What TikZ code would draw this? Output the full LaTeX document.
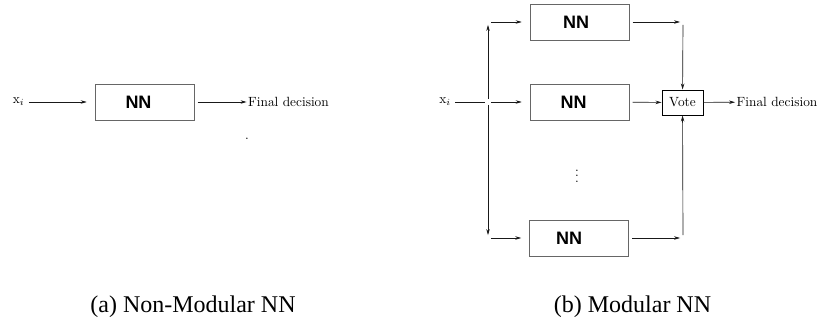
\documentclass[tikz,border=0pt]{standalone}
\usepackage{amsmath}
\usepackage{fontspec}
\usetikzlibrary{arrows.meta}
\newfontfamily\nnfont{Liberation Sans}
\newfontfamily\capfont{Liberation Serif}

\begin{document}
\begin{tikzpicture}[x=0.75pt, y=-0.75pt,
    nnbox/.style={draw=black!60, minimum width=74.25pt, minimum height=27pt, inner sep=0pt},
    nntext/.style={font=\nnfont\bfseries\fontsize{13.5}{14}\selectfont},
    votebox/.style={draw, line width=0.7pt, minimum width=30.75pt, minimum height=18.75pt, inner sep=2pt},
    corner/.style={inner sep=0pt, minimum size=4pt},
    arr/.style={-{Stealth[length=4.5pt, width=2.6pt]}, black!90, line width=0.5pt},
    into/.style={arr, shorten >=6pt},
    outof/.style={arr, shorten <=2.5pt}]
    \useasboundingbox (0,0) rectangle (817,320);
    % (a) Non-modular
    \node (xa) at (18.5,102) {$\mathrm{x}_i$};
    \node[nnbox, label={[nntext, xshift=-4.5pt]center:NN}] (nna) at (144.5,102) {};
    \node[inner sep=1pt] (fda) at (288.5,102) {Final decision};
    \node[inner sep=0pt] (dot) at (247,139) {.};
    \draw[into] (xa) -- (nna);
    \draw[outof] (nna) -- (fda);
    % (b) Modular
    \node (xb) at (445,102) {$\mathrm{x}_i$};
    \node[corner] (split) at (488,102) {};
    \node[corner] (tl) at (488,22) {};
    \node[corner] (bl) at (488,238) {};
    \node[nnbox, label={[nntext, xshift=-2.5pt]center:NN}] (nn1) at (579.5,22) {};
    \node[nnbox, label={[nntext, xshift=-4.5pt]center:NN}] (nn2) at (579.5,102) {};
    \node[nnbox, label={[nntext, xshift=-7.5pt]center:NN}] (nn3) at (579,238) {};
    \node (dots) at (577,172) {$\vdots$};
    \node[corner] (tr) at (683,22) {};
    \node[corner] (br) at (683,238) {};
    \node[votebox] (vote) at (682.5,102.5) {Vote};
    \node[inner sep=1pt] (fdb) at (777,102) {Final decision};
    % connectors
    \draw[black!90, line width=0.5pt] (xb) -- (split);
    \draw[arr] (split) -- (tl);
    \draw[arr] (split) -- (bl);
    \draw[into] (split) -- (nn2);
    \draw[into] (tl) -- (nn1);
    \draw[into] (bl) -- (nn3);
    \draw[outof] (nn1) -- (tr);
    \draw[outof] (nn3) -- (br);
    \draw[outof] (nn2) -- (vote);
    \draw[arr] (tr) -- (vote);
    \draw[arr] (br) -- (vote);
    \draw[arr] (vote) -- (fdb);
    % captions
    \node[font=\capfont\fontsize{18}{20}\selectfont, anchor=base] (capa) at (193,312) {(a)\ Non-Modular NN};
    \node[font=\capfont\fontsize{18}{20}\selectfont, anchor=base] (capb) at (632.5,312) {(b)\ Modular NN};
\end{tikzpicture}
\end{document}
